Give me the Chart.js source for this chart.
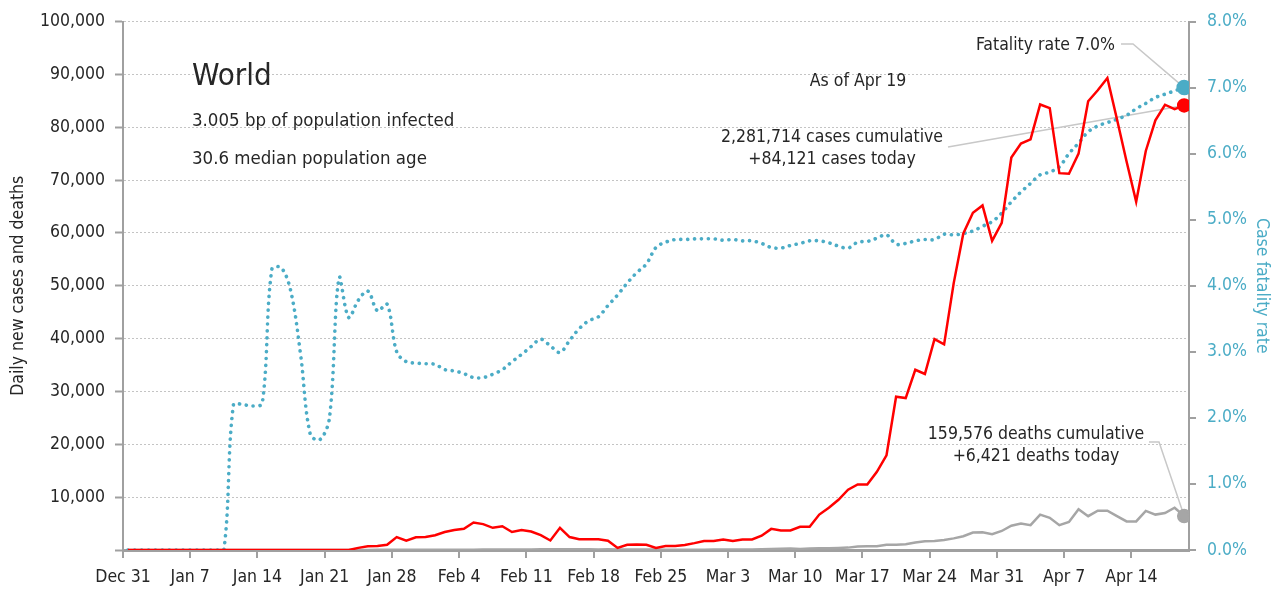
<!DOCTYPE html>
<html>
<head>
<meta charset="utf-8">
<script src="https://cdn.jsdelivr.net/npm/chart.js@4.4.1/dist/chart.umd.min.js"></script>
<style>
  html, body { margin: 0; padding: 0; background: #fff; }
  #wrap { width: 1281px; height: 589px; }
</style>
</head>
<body>
<div id="wrap"><canvas id="chart" width="1281" height="589"></canvas></div>
<script>
// one value per day, Dec 31 .. Apr 19
const tickLabels = ['Dec 31', 'Jan 7', 'Jan 14', 'Jan 21', 'Jan 28', 'Feb 4', 'Feb 11', 'Feb 18',
    'Feb 25', 'Mar 3', 'Mar 10', 'Mar 17', 'Mar 24', 'Mar 31', 'Apr 7', 'Apr 14']

const newCases = [
    0, 0, 0, 0, 0, 0, 0, 0, 0, 0,
    0, 0, 0, 0, 0, 0, 0, 0, 0, 0,
    0, 0, 0, 0, 400, 700, 750, 1000, 2450, 1750,
    2400, 2450, 2800, 3400, 3800, 4000, 5200, 4900, 4200, 4500,
    3400, 3800, 3500, 2800, 1800, 4200, 2450, 2050, 2050, 2050,
    1750, 400, 1000, 1050, 1000, 400, 750, 750, 950, 1300,
    1700, 1700, 2000, 1700, 2000, 2000, 2700, 4000, 3700, 3700,
    4400, 4400, 6700, 8000, 9500, 11400, 12400, 12400, 14800, 17900,
    29000, 28750, 34100, 33300, 39900, 38900, 50500, 59900, 63800, 65200,
    58500, 61900, 74250, 76900, 77700, 84300, 83600, 71300, 71200, 75000,
    84900, 87000, 89300, 81500, 73500, 65900, 75500, 81300, 84250, 83400,
    84121
]

const newDeaths = [
    0, 0, 0, 0, 0, 0, 0, 0, 0, 0,
    0, 0, 0, 0, 0, 0, 0, 0, 0, 0,
    0, 0, 10, 10, 20, 20, 30, 30, 30, 40,
    40, 50, 50, 60, 60, 70, 70, 80, 80, 90,
    100, 100, 110, 120, 140, 150, 140, 130, 120, 110,
    120, 110, 100, 110, 100, 80, 70, 60, 60, 70,
    70, 80, 80, 90, 90, 100, 150, 200, 250, 300,
    200, 300, 350, 350, 400, 450, 650, 700, 700, 1000,
    1000, 1100, 1400, 1650, 1700, 1900, 2200, 2600, 3300, 3350,
    3000, 3600, 4600, 5000, 4700, 6700, 6100, 4700, 5300, 7700,
    6400, 7450, 7450, 6400, 5400, 5400, 7400, 6700, 7000, 8000,
    6421
]

// case fatality rate, percent
const fatalityRate = [
    0, 0, 0, 0, 0, 0, 0, 0, 0, 0,
    0, 2.20, 2.20, 2.18, 2.22, 4.25, 4.27, 3.90, 2.95, 1.75,
    1.67, 2.00, 4.12, 3.52, 3.78, 3.92, 3.62, 3.72, 3.00, 2.85,
    2.83, 2.82, 2.81, 2.73, 2.71, 2.67, 2.61, 2.61, 2.66, 2.73,
    2.85, 2.96, 3.08, 3.19, 3.09, 2.99, 3.17, 3.35, 3.47, 3.53,
    3.70, 3.86, 4.04, 4.20, 4.33, 4.58, 4.66, 4.70, 4.70, 4.71,
    4.71, 4.71, 4.69, 4.70, 4.68, 4.68, 4.64, 4.58, 4.57, 4.61,
    4.64, 4.68, 4.68, 4.65, 4.60, 4.57, 4.66, 4.67, 4.72, 4.77,
    4.63, 4.64, 4.68, 4.70, 4.70, 4.78, 4.77, 4.79, 4.83, 4.90,
    4.97, 5.10, 5.27, 5.42, 5.55, 5.68, 5.72, 5.80, 6.00, 6.16,
    6.33, 6.42, 6.47, 6.52, 6.58, 6.68, 6.76, 6.85, 6.90, 6.95,
    7.00
]

const cumulativeCases = 2281714
const cumulativeDeaths = 159576
const regionName = 'World'
const infoLines = ['3.005 bp of population infected', '30.6 median population age']
const asOfDate = 'Apr 19'

const FONT = "'Liberation Sans Narrow', 'DejaVu Sans Condensed', 'Arial Narrow', sans-serif"
const TEXT_COLOR = '#262626'
const RED = '#ff0000'
const BLUE = '#4bacc6'
const GRAY = '#a6a6a6'
const AXIS_GRAY = '#a0a0a0'

function toPoints(values) {
    // each day sits in the middle of its slot on the axis
    return values.map((v, i) => ({ x: i + 0.5, y: v }))
}

function fmt(n) {
    return n.toLocaleString('en-US')
}

function lastOnly(radius) {
    return ctx => ctx.dataIndex === ctx.dataset.data.length - 1 ? radius : 0
}

const annotations = {
    id: 'annotations',
    beforeDatasetsDraw(chart) {
        const { ctx, scales } = chart
        const last = newCases.length - 1
        const xEnd = scales.x.getPixelForValue(last + 0.5)
        const rateY = scales.y2.getPixelForValue(fatalityRate[last])
        const caseY = scales.y.getPixelForValue(newCases[last])
        const deathY = scales.y.getPixelForValue(newDeaths[last])

        ctx.save()
        ctx.strokeStyle = '#c8c8c8'
        ctx.lineWidth = 1.5
        const polyline = pts => {
            ctx.beginPath()
            ctx.moveTo(pts[0][0], pts[0][1])
            for (let k = 1; k < pts.length; k++) ctx.lineTo(pts[k][0], pts[k][1])
            ctx.stroke()
        }
        polyline([[1121, 44], [1133, 44], [xEnd, rateY]])
        polyline([[948, 147], [xEnd, caseY]])
        polyline([[1149, 442], [1159, 442], [xEnd, deathY]])
        ctx.restore()
    },
    afterDatasetsDraw(chart) {
        const { ctx } = chart
        const last = newCases.length - 1
        ctx.save()
        ctx.fillStyle = TEXT_COLOR
        ctx.textBaseline = 'middle'

        ctx.textAlign = 'left'
        ctx.font = '31px ' + FONT
        ctx.fillText(regionName, 192, 77)
        ctx.font = '18.5px ' + FONT
        ctx.fillText(infoLines[0], 192, 121)
        ctx.fillText(infoLines[1], 192, 159)

        ctx.font = '17.5px ' + FONT
        ctx.textAlign = 'center'
        ctx.fillText('As of ' + asOfDate, 858, 81)
        ctx.fillText(fmt(cumulativeCases) + ' cases cumulative', 832, 137)
        ctx.fillText('+' + fmt(newCases[last]) + ' cases today', 832, 159)
        ctx.fillText(fmt(cumulativeDeaths) + ' deaths cumulative', 1036, 434)
        ctx.fillText('+' + fmt(newDeaths[last]) + ' deaths today', 1036, 456)

        ctx.textAlign = 'right'
        ctx.fillText('Fatality rate ' + fatalityRate[last].toFixed(1) + '%', 1115, 45)
        ctx.restore()
    }
}

Chart.defaults.font.family = FONT
Chart.defaults.font.size = 17.5
Chart.defaults.color = TEXT_COLOR

new Chart(document.getElementById('chart'), {
    type: 'line',
    data: {
        datasets: [
            {
                label: 'Daily new cases',
                data: toPoints(newCases),
                yAxisID: 'y',
                borderColor: RED,
                backgroundColor: RED,
                borderWidth: 2.5,
                tension: 0,
                pointRadius: lastOnly(6),
                pointHoverRadius: 0
            },
            {
                label: 'Case fatality rate',
                data: toPoints(fatalityRate),
                yAxisID: 'y2',
                borderColor: BLUE,
                backgroundColor: BLUE,
                borderWidth: 3.6,
                borderDash: [0.1, 6.8],
                borderCapStyle: 'round',
                tension: 0.35,
                pointRadius: lastOnly(6),
                pointHoverRadius: 0
            },
            {
                label: 'Daily deaths',
                data: toPoints(newDeaths),
                yAxisID: 'y',
                borderColor: GRAY,
                backgroundColor: GRAY,
                borderWidth: 2.5,
                tension: 0,
                pointRadius: lastOnly(6),
                pointHoverRadius: 0
            }
        ]
    },
    options: {
        responsive: false,
        animation: false,
        devicePixelRatio: 1,
        layout: { padding: { top: 19, left: 0, right: 0, bottom: 0 } },
        plugins: {
            legend: { display: false },
            tooltip: { enabled: false }
        },
        scales: {
            x: {
                type: 'linear',
                min: 0,
                max: newCases.length,
                afterFit(scale) { scale.height = 39 },
                grid: { drawOnChartArea: false, drawTicks: true, tickLength: 8, tickColor: AXIS_GRAY, lineWidth: 2 },
                border: { color: AXIS_GRAY, width: 3 },
                ticks: {
                    stepSize: 7,
                    includeBounds: false,
                    autoSkip: false,
                    maxRotation: 0,
                    padding: 9,
                    callback: v => tickLabels[v / 7] || ''
                }
            },
            y: {
                position: 'left',
                min: 0,
                max: 100000,
                afterFit(scale) { scale.width = 123 },
                grid: { color: '#c4c4c4', lineWidth: 1, tickLength: 8, tickColor: AXIS_GRAY, tickWidth: 2 },
                border: { color: AXIS_GRAY, width: 2, dash: [2, 2] },
                ticks: {
                    stepSize: 10000,
                    padding: 10,
                    callback: v => v === 0 ? '' : fmt(v)
                },
                title: {
                    display: true,
                    text: 'Daily new cases and deaths',
                    padding: { top: 8, bottom: 0 }
                }
            },
            y2: {
                position: 'right',
                min: 0,
                max: 8,
                afterFit(scale) { scale.width = 92 },
                grid: { drawOnChartArea: false, tickLength: 7, tickColor: AXIS_GRAY, lineWidth: 2 },
                border: { color: AXIS_GRAY, width: 2 },
                ticks: {
                    stepSize: 1,
                    padding: 11,
                    color: BLUE,
                    callback: v => v.toFixed(1) + '%'
                },
                title: {
                    display: true,
                    text: 'Case fatality rate',
                    color: BLUE,
                    padding: { top: 9, bottom: 0 }
                }
            }
        }
    },
    plugins: [annotations]
})
</script>
</body>
</html>
